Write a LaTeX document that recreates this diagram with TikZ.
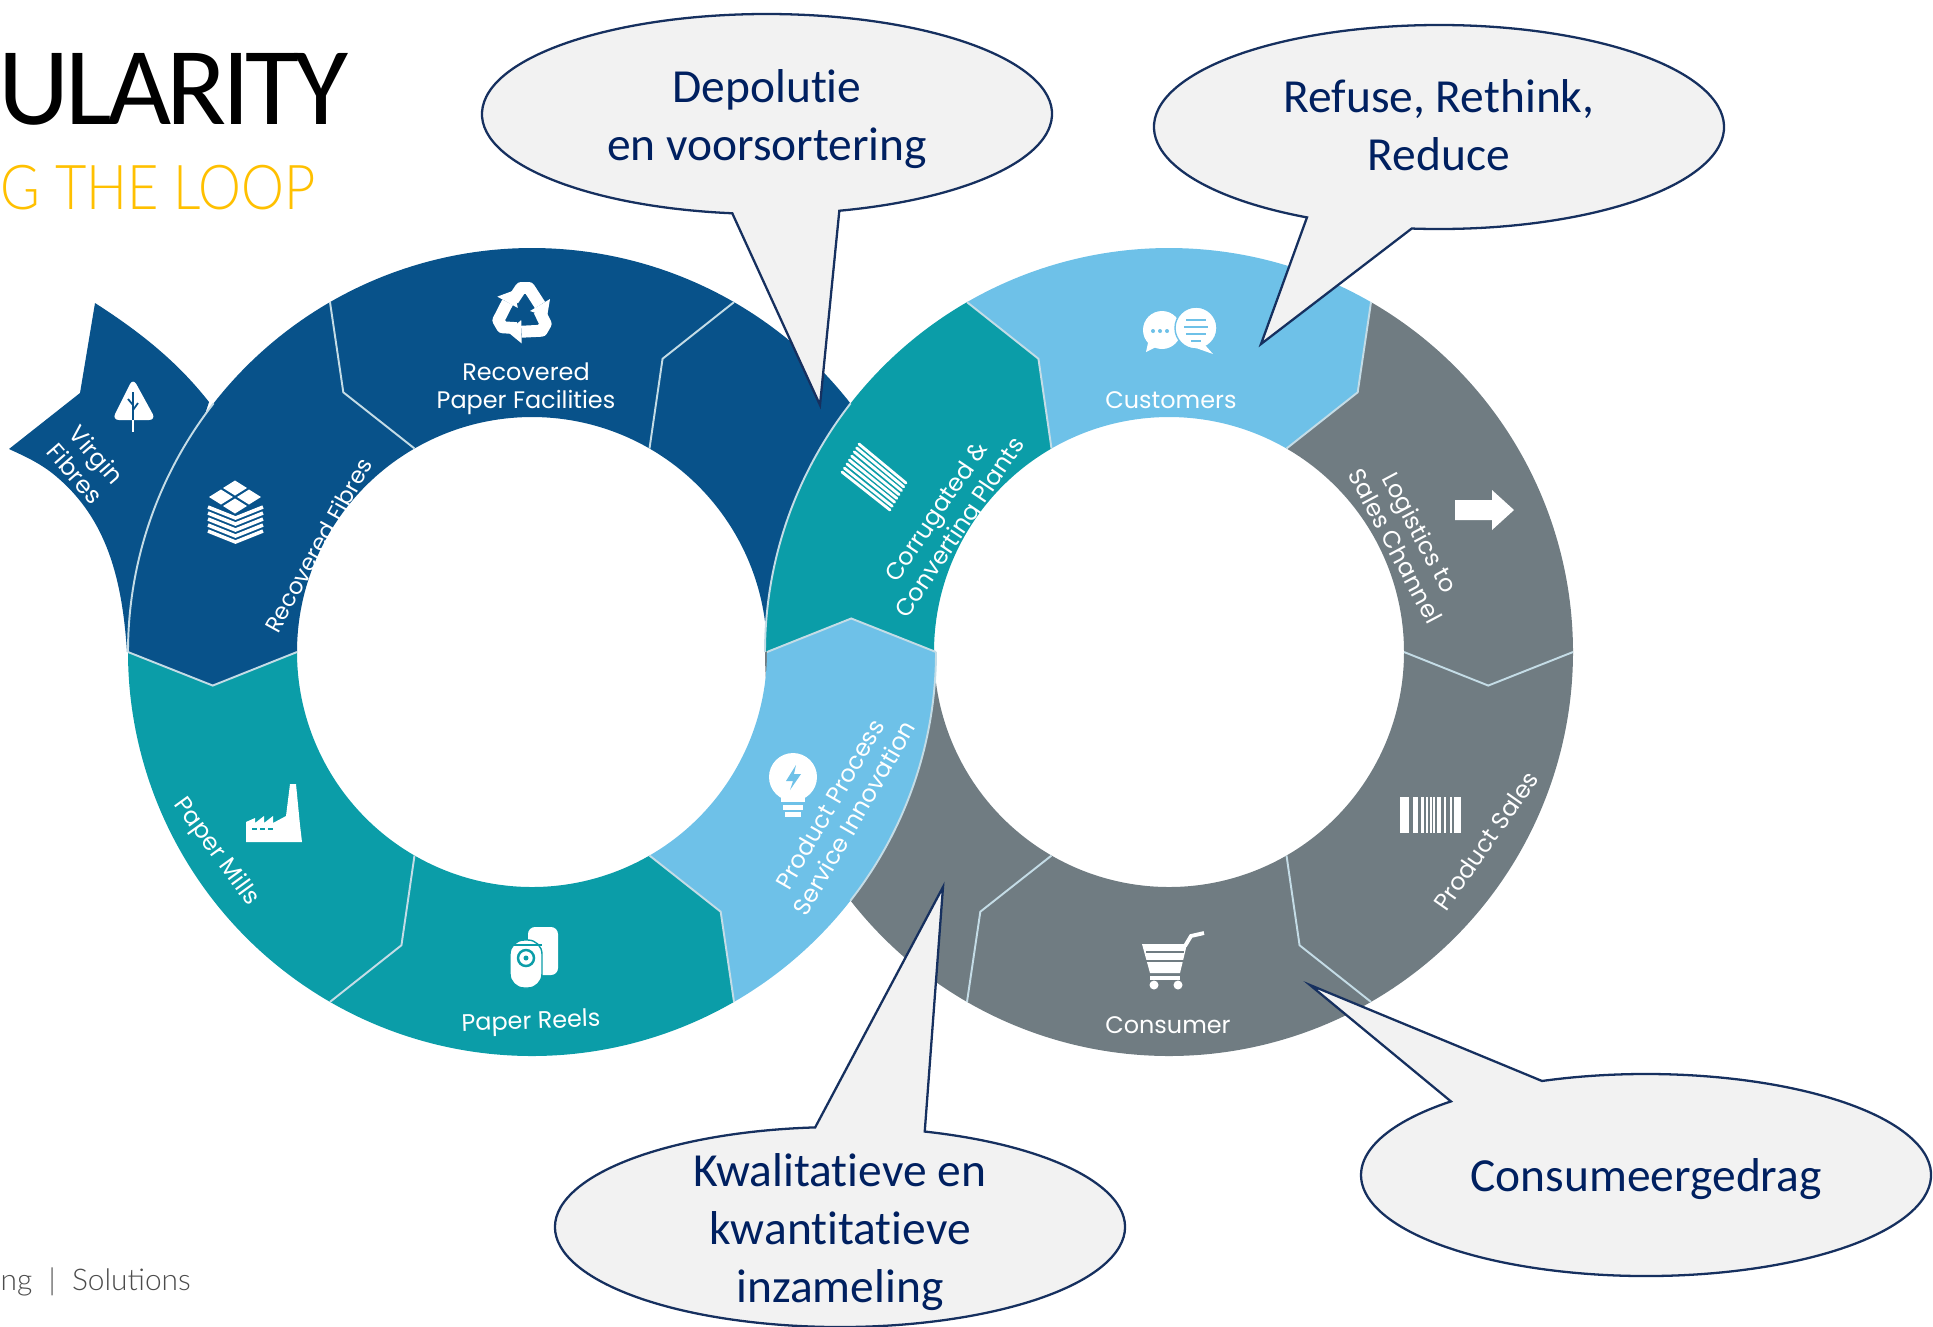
\documentclass[tikz,border=0pt]{standalone}
\usepackage{fontspec}
\setmainfont[Ligatures=NoCommon]{Carlito}
\newfontfamily\ringfont{Poppins}
\newfontfamily\titlefont[LetterSpace=-4.2]{Carlito}
\newfontfamily\lightfont{Lato Light}
\newfontfamily\subtitlefont[FakeStretch=0.875]{Lato Light}
\usetikzlibrary{calc}
\definecolor{ringdark}{HTML}{08528A}
\definecolor{ringteal}{HTML}{0B9DA8}
\definecolor{ringlight}{HTML}{6EC1E8}
\definecolor{ringgrey}{HTML}{707C82}
\definecolor{sepcolor}{HTML}{C4DCE6}
\definecolor{bubbleline}{HTML}{16305F}
\definecolor{bubbletextcol}{HTML}{002060}
\definecolor{loopcolor}{HTML}{FFC000}
\tikzstyle{bubble} = [draw=bubbleline, fill=black!5, line width=0.65pt, line join=miter]
\tikzstyle{bubbletext} = [align=center, text=bubbletextcol, inner sep=0pt, font=\fontsize{13.5}{16.5}\selectfont]
\tikzstyle{ringlabel} = [align=center, text=white, inner sep=0pt, font=\ringfont\fontsize{6.8}{8}\selectfont]
\tikzstyle{sepline} = [draw=sepcolor, line width=0.55pt]
\tikzstyle{icon} = [fill=white, draw=none]
% one part of a ring: centre, angles of its two ends, their kinks, colour
\newcommand{\ringpart}[6]{\fill[#6] ($(#1)+(#2:404)$) arc[start angle=#2,end angle=#3,radius=404] -- ($(#1)+(#5:321)$) -- ($(#1)+(#3:235)$) arc[start angle=#3,end angle=#2,radius=235] -- ($(#1)+(#4:321)$) -- cycle;}
\newcommand{\ringsep}[3]{\draw[sepline] ($(#1)+(#2:404)$) -- ($(#1)+(#3:321)$) -- ($(#1)+(#2:235)$);}
\begin{document}
\begin{tikzpicture}[x=0.01cm,y=0.01cm,yscale=-1]
  \useasboundingbox (0,0) rectangle (1933,1326);
  \coordinate (leftc) at (532,652);
  \coordinate (rightc) at (1169,652);

  \node (title) [anchor=base west, inner sep=0pt, font=\titlefont\fontsize{31.5}{36}\selectfont] at (-2,124) {ULARITY};
  \node (subtitle) [anchor=base west, inner sep=0pt, text=loopcolor, font=\subtitlefont\fontsize{17.6}{22}\selectfont] at (0,209) {G THE LOOP};
  \node (footer) [anchor=base west, inner sep=0pt, text=black!70, font=\lightfont\fontsize{8.5}{10}\selectfont] at (0,1290) {ng\ \ |\ \ Solutions};

  % virgin fibres
  \fill[ringdark] (95,303) .. controls (145,335) and (180,365) .. (209,402) -- (127,652)
    .. controls (122,575) and (105,515) .. (52,473) .. controls (38,462) and (22,455) .. (9,449) -- (80,393) -- cycle;

  % right ring, lower part
  \ringpart{rightc}{300}{360}{306}{366}{ringgrey}
  \ringpart{rightc}{0}{60}{6}{66}{ringgrey}
  \ringpart{rightc}{60}{120}{66}{126}{ringgrey}
  \ringpart{rightc}{120}{180}{126}{186}{ringgrey}
  % left ring
  \ringpart{leftc}{60}{120}{54}{114}{ringteal}
  \ringpart{leftc}{120}{180}{114}{174}{ringteal}
  \ringpart{leftc}{180}{240}{174}{234}{ringdark}
  \ringpart{leftc}{240}{300}{234}{294}{ringdark}
  \ringpart{leftc}{300}{355}{294}{345}{ringdark}
  % right ring over left one at the top, left one over right at the bottom
  \ringpart{rightc}{180}{240}{186}{246}{ringteal}
  \ringpart{rightc}{240}{300}{246}{306}{ringlight}
  \ringpart{leftc}{0}{60}{-6}{54}{ringlight}

  \ringsep{rightc}{0}{6}
  \ringsep{rightc}{60}{66}
  \ringsep{rightc}{120}{126}
  \ringsep{rightc}{240}{246}
  \ringsep{rightc}{300}{306}
  \ringsep{leftc}{0}{-6}
  \ringsep{leftc}{60}{54}
  \ringsep{leftc}{120}{114}
  \ringsep{leftc}{180}{174}
  \ringsep{leftc}{240}{234}
  \ringsep{leftc}{300}{294}
  \draw[sepline] ($(leftc)+(0:404)$) arc[start angle=0,end angle=38,radius=404];
  \draw[sepline] ($(rightc)+(180:404)$) arc[start angle=180,end angle=218,radius=404];
  \draw[sepline] ($(leftc)+(180:404)$) arc[start angle=180,end angle=218,radius=404];

  % ring labels
  \node (virgin) [ringlabel, rotate=-49] at (86,464) {Virgin\\Fibres};
  \node (recfibres) [ringlabel, rotate=61, font=\ringfont\fontsize{6.5}{8}\selectfont] at (318,545) {Recovered Fibres};
  \node (recpaper) [ringlabel, rotate=0] at (526,389) {Recovered\\Paper Facilities};
  \node (corrugated) [ringlabel, rotate=56] at (950,521) {Corrugated \&\\Converting Plants};
  \node (customers) [ringlabel] at (1171,400) {Customers};
  \node (logistics) [ringlabel, rotate=-62] at (1408,539) {Logistics to\\Sales Channel};
  \node (sales) [ringlabel, rotate=55] at (1486,841) {Product Sales};
  \node (consumer) [ringlabel] at (1168,1025) {Consumer};
  \node (innovation) [ringlabel, rotate=60] at (842,811) {Product Process\\Service Innovation};
  \node (reels) [ringlabel, rotate=2] at (531,1023) {Paper Reels};
  \node (mills) [ringlabel, rotate=-54] at (216,852) {Paper Mills};

  % icons
  \fill[icon, rounded corners=2] (133,378) -- (156,420) -- (112,420) -- cycle;
  \draw[ringdark, line width=0.5pt] (133,392) -- (133,420) (133,405) -- (128,399) (133,410) -- (138,403);
  \draw[white, line width=0.8pt] (133,420) -- (133,432);

  \foreach \a in {0,120,240} {
    \begin{scope}[shift={(523,313)}, rotate=\a]
      \draw[white, line width=3.4pt, line join=round] (-10,-13) -- (-2,-25) -- (6,-25) -- (17,-8);
      \fill[icon] (24,4) -- (27,-14) -- (7,-2) -- cycle;
    \end{scope}
  }

  \foreach \x/\y in {235/488,221/497,249/497,235/506}
    \fill[icon] (\x-12,\y) -- (\x,\y-7.5) -- (\x+12,\y) -- (\x,\y+7.5) -- cycle;
  \foreach \y in {507,513,519,525,531}
    \draw[white, line width=1pt] (208,\y) -- (235.5,\y+11) -- (263,\y);

  \coordinate (sheeta) at (859,444);
  \coordinate (sheetb) at (906,483);
  \coordinate (sheetc) at (890,510);
  \coordinate (sheetd) at (842,472);
  \foreach \t in {0,0.14,0.28,0.43,0.57,0.71,0.86,1}
    \draw[white, line width=0.8pt, line cap=round] ($(sheeta)!\t!(sheetd)$) -- ($(sheetb)!\t!(sheetc)$);

  \fill[icon] (1162,330) circle (19);
  \fill[icon] (1148,343) -- (1146,352) -- (1158,346) -- cycle;
  \foreach \x in {1153,1160,1167}
    \fill[ringlight] (\x,331) circle (2);
  \draw[ringlight, fill=white, line width=0.4pt] (1196,328) circle (21);
  \fill[icon] (1205,345) -- (1213,354) -- (1196,348) -- cycle;
  \foreach \y/\w in {320/10,327/12,334/10,341/5}
    \draw[ringlight, line width=0.7pt] (1196-\w,\y) -- (1196+\w,\y);

  \fill[icon] (1455,500) -- (1492,500) -- (1492,490) -- (1514,510) -- (1492,530) -- (1492,520) -- (1455,520) -- cycle;

  \foreach \x/\w in {1400/9,1413/5,1421/3,1426/1.5,1430/1.5,1433/1.5,1437/4,1444/2,1450/1.5,1454/7}
    \fill[icon] (\x,797) rectangle (\x+\w,833);

  \fill[icon] (1142,944) -- (1187,944) -- (1180,973) -- (1150,973) -- cycle;
  \foreach \y in {952,961}
    \draw[ringgrey, line width=0.6pt] (1146,\y) -- (1184,\y);
  \draw[white, line width=1.1pt] (1185,946) -- (1191,936) -- (1204,933);
  \draw[white, line width=1.1pt] (1150,978) -- (1180,978);
  \fill[icon] (1154,985) circle (4.5) (1178,985) circle (4.5);

  \fill[icon, rounded corners=2] (528,927) rectangle (558,975);
  \fill[icon, rounded corners=4, draw=ringteal, line width=0.4pt] (510,940) rectangle (542,988);
  \draw[ringteal, line width=0.5pt] (510,945) -- (542,945);
  \draw[ringteal, fill=white, line width=0.7pt] (526,958) circle (8);
  \fill[ringteal] (526,958) circle (2.5);

  \fill[icon] (290,784) -- (296,784) -- (300,825) -- (302,842) -- (246,842) -- (246,822) -- (255,818) -- (255,823)
    -- (264,816) -- (264,823) -- (273,816) -- (273,823) -- (286,816) -- cycle;
  \foreach \x in {252,260,268}
    \draw[ringteal, line width=0.5pt] (\x,829) -- (\x+5,829);

  \fill[icon] (793,777) circle (24);
  \fill[icon] (781,795) rectangle (805,802);
  \fill[icon] (783,805) rectangle (803,810);
  \fill[icon] (785,812) rectangle (801,817);
  \fill[ringlight] (796,765) -- (786,781) -- (793,781) -- (790,790) -- (801,774) -- (794,774) -- cycle;

  % speech bubbles
  \coordinate (depoc) at (767,114);
  \coordinate (depotip) at (820,405);
  \draw[bubble] (depotip) -- ($(depoc)+(97:285 and 100)$) arc[start angle=97,end angle=435.3,x radius=285,y radius=100] -- cycle;
  \node (depo) [bubbletext] at (767,119) {Depolutie\\en voorsortering};

  \coordinate (refusec) at (1439,127);
  \coordinate (refusetip) at (1261,344);
  \draw[bubble] (refusetip) -- ($(refusec)+(117.6:285 and 102)$) arc[start angle=117.6,end angle=455.5,x radius=285,y radius=102] -- cycle;
  \node (refuse) [bubbletext] at (1439,125) {Refuse, Rethink,\\Reduce};

  \coordinate (kwalc) at (840,1227);
  \coordinate (kwaltip) at (943,887);
  \draw[bubble] (kwaltip) -- ($(kwalc)+(287.3:285 and 100)$) arc[start angle=287.3,end angle=625,x radius=285,y radius=100] -- cycle;
  \node (kwal) [bubbletext] at (840,1232) {Kwalitatieve en\\kwantitatieve\\inzameling};

  \coordinate (gedragc) at (1646,1175);
  \coordinate (gedragtip) at (1310,985);
  \draw[bubble] (gedragtip) -- ($(gedragc)+(248.6:285 and 101)$) arc[start angle=248.6,end angle=586.8,x radius=285,y radius=101] -- cycle;
  \node (gedrag) [bubbletext] at (1646,1179) {Consumeergedrag};
\end{tikzpicture}
\end{document}
